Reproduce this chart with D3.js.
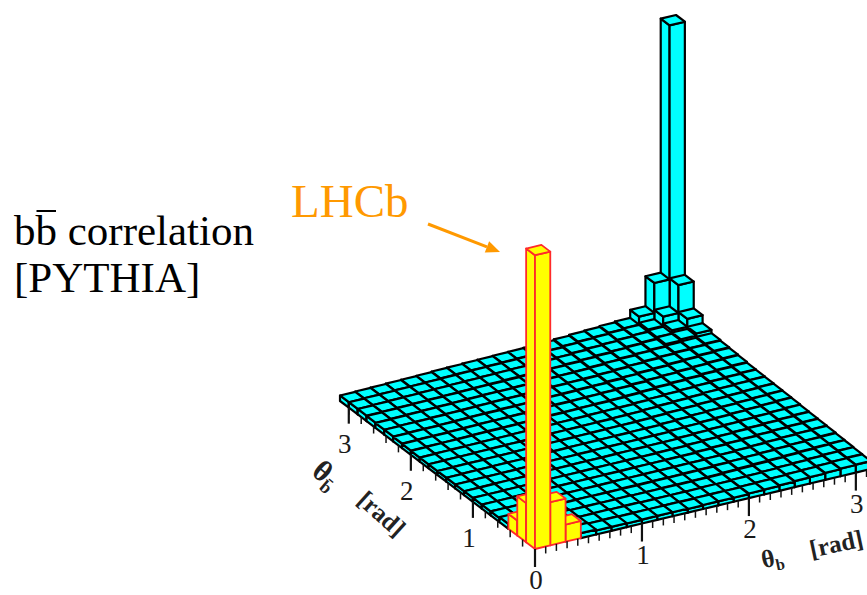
<!DOCTYPE html>
<html>
<head>
<meta charset="utf-8">
<script src="https://cdn.jsdelivr.net/npm/d3@7"></script>
<style>
  body { margin: 0; background: #fff; }
  svg { display: block; }
  text { font-family: "Liberation Serif", "Times New Roman", serif; }
</style>
</head>
<body>
<svg id="chart" width="867" height="595"></svg>
<script>
// both angles binned from 0 to pi
var nBins = 22;
var thetaTicks = [0, 1, 2, 3];
var tickLabels = ['0', '1', '2', '3'];
// bins inside the LHCb acceptance (theta_b bin, theta_bbar bin)
var lhcbBins = [[0, 0], [1, 0], [0, 1], [2, 0], [1, 1], [0, 2]];

// entries[j][i] : j = theta_bbar bin, i = theta_b bin (arbitrary units)
var entries = [
  [960,141,56,16,13,13,12,13,13,13,12,13,13,13,15,16,18,20,21,23,25,26],
  [128,98,39,16,13,14,13,13,12,13,13,13,14,13,15,16,18,20,21,23,25,27],
  [49,39,26,15,13,13,13,14,13,13,13,12,13,13,15,16,18,20,22,24,26,28],
  [16,15,14,13,13,14,13,13,13,13,14,14,14,15,17,19,21,22,24,26,28,29],
  [13,13,13,13,14,14,14,14,15,15,15,15,16,16,18,19,21,23,25,27,29,31],
  [13,13,14,14,14,14,15,15,15,15,16,16,16,16,18,20,22,24,26,28,30,32],
  [13,13,14,14,14,15,15,15,16,16,16,16,17,17,19,21,23,25,27,29,31,33],
  [13,13,14,14,15,15,15,16,16,16,17,17,18,18,20,22,24,26,28,30,32,34],
  [13,14,14,14,15,15,16,16,16,17,17,18,18,18,21,23,25,27,29,31,33,35],
  [13,14,14,15,15,15,16,16,17,17,18,18,19,19,21,23,26,28,30,32,34,36],
  [13,14,14,15,15,16,16,17,17,18,18,19,19,20,22,24,26,28,31,33,35,37],
  [13,14,14,15,15,16,16,17,18,18,19,19,20,21,23,25,27,29,32,34,36,38],
  [13,14,14,15,16,16,17,17,18,19,19,20,21,21,23,26,28,30,32,35,37,39],
  [13,14,15,15,16,16,17,18,18,19,20,21,21,22,24,26,29,31,33,36,38,40],
  [14,15,15,16,17,18,18,19,20,21,21,22,23,24,26,28,31,33,35,38,40,42],
  [15,16,16,17,18,19,19,20,21,22,23,23,24,25,27,30,32,34,37,39,42,44],
  [16,17,17,18,19,20,21,22,22,23,24,25,26,26,29,31,34,36,39,41,44,46],
  [16,17,18,19,20,21,22,23,23,24,25,26,27,28,30,33,35,38,40,43,45,48],
  [17,18,19,20,21,22,23,24,24,25,26,27,28,29,32,34,37,39,42,48,52,59],
  [18,19,20,21,22,23,24,25,26,27,28,28,29,31,33,36,38,41,44,49,59,85],
  [18,19,20,21,22,23,24,25,26,27,28,29,30,31,34,37,39,42,45,52,82,173],
  [18,19,20,21,22,23,25,26,27,28,29,30,31,32,35,38,40,43,46,72,170,1000]
];

var svg = d3.select('#chart');

// oblique projection of the (theta_b, theta_bbar, entries) box
var origin = [535, 549];
var tbX = d3.scaleLinear().domain([0, Math.PI]).range([0, 336]);
var tbY = d3.scaleLinear().domain([0, Math.PI]).range([0, -80]);
var tbbX = d3.scaleLinear().domain([0, Math.PI]).range([0, -195]);
var tbbY = d3.scaleLinear().domain([0, Math.PI]).range([0, -148]);
var zScale = d3.scaleLinear().domain([0, 1000]).range([0, 306]);
var binEdge = d3.scaleLinear().domain([0, nBins]).range([0, Math.PI]);

function proj(tb, tbb, z) {
    return [origin[0] + tbX(tb) + tbbX(tbb),
            origin[1] + tbY(tb) + tbbY(tbb) - zScale(z)];
}

var line = d3.line();
function quad(pts) { return line(pts) + 'Z'; }

function isLhcb(i, j) {
    return lhcbBins.some(function(b) { return b[0] == i && b[1] == j; });
}

// flatten and sort back to front
var bins = [];
entries.forEach(function(row, j) {
    row.forEach(function(v, i) { bins.push({i: i, j: j, v: v}); });
});
bins.sort(function(a, b) { return (b.i + b.j) - (a.i + a.j); });

var lego = svg.append('g').attr('id', 'lego');
var bars = lego.selectAll('g.bar')
    .data(bins).enter()
    .append('g')
    .attr('class', 'bar')
    .attr('fill', function(d) { return isLhcb(d.i, d.j) ? '#ffff00' : '#00ffff'; })
    .attr('stroke', function(d) { return isLhcb(d.i, d.j) ? '#ff2a2a' : '#000'; })
    .attr('stroke-width', function(d) { return isLhcb(d.i, d.j) ? 1.8 : 2.2; })
    .attr('stroke-linejoin', 'round');

bars.append('path').attr('d', function(d) {
    var t0 = binEdge(d.i), u0 = binEdge(d.j), u1 = binEdge(d.j + 1);
    return quad([proj(t0, u0, 0), proj(t0, u1, 0), proj(t0, u1, d.v), proj(t0, u0, d.v)]);
});
bars.append('path').attr('d', function(d) {
    var t0 = binEdge(d.i), t1 = binEdge(d.i + 1), u0 = binEdge(d.j);
    return quad([proj(t0, u0, 0), proj(t1, u0, 0), proj(t1, u0, d.v), proj(t0, u0, d.v)]);
});
bars.append('path').attr('d', function(d) {
    var t0 = binEdge(d.i), t1 = binEdge(d.i + 1), u0 = binEdge(d.j), u1 = binEdge(d.j + 1);
    return quad([proj(t0, u0, d.v), proj(t1, u0, d.v), proj(t1, u1, d.v), proj(t0, u1, d.v)]);
});

// axis ticks hanging under the front edges
var axes = svg.append('g').attr('stroke', '#111').attr('stroke-width', 1.5);
var minorB = d3.range(0, Math.PI, 0.1);
var minorBbar = d3.range(0.2, Math.PI, 0.2);

axes.selectAll('line.tb').data(minorB).enter().append('line')
    .attr('class', 'tb')
    .attr('x1', function(t) { return proj(t, 0, 0)[0]; })
    .attr('x2', function(t) { return proj(t, 0, 0)[0]; })
    .attr('y1', function(t) { return proj(t, 0, 0)[1]; })
    .attr('y2', function(t) { return proj(t, 0, 0)[1] + 7; });
axes.selectAll('line.tbb').data(minorBbar).enter().append('line')
    .attr('class', 'tbb')
    .attr('x1', function(t) { return proj(0, t, 0)[0]; })
    .attr('x2', function(t) { return proj(0, t, 0)[0]; })
    .attr('y1', function(t) { return proj(0, t, 0)[1]; })
    .attr('y2', function(t) { return proj(0, t, 0)[1] + 7; });
axes.selectAll('line.mb').data(thetaTicks).enter().append('line')
    .attr('class', 'mb')
    .attr('stroke-width', 2.2)
    .attr('x1', function(t) { return proj(t, 0, 0)[0]; })
    .attr('x2', function(t) { return proj(t, 0, 0)[0]; })
    .attr('y1', function(t) { return proj(t, 0, 0)[1]; })
    .attr('y2', function(t) { return proj(t, 0, 0)[1] + 18; });
axes.selectAll('line.mbb').data(thetaTicks.slice(1)).enter().append('line')
    .attr('class', 'mbb')
    .attr('stroke-width', 2.2)
    .attr('x1', function(t) { return proj(0, t, 0)[0]; })
    .attr('x2', function(t) { return proj(0, t, 0)[0]; })
    .attr('y1', function(t) { return proj(0, t, 0)[1]; })
    .attr('y2', function(t) { return proj(0, t, 0)[1] + 16; });

var labels = svg.append('g')
    .attr('fill', '#1a1a1a')
    .attr('font-size', 27)
    .attr('text-anchor', 'middle');
labels.selectAll('text.lb').data(thetaTicks).enter().append('text')
    .attr('class', 'lb')
    .attr('x', function(t) { return proj(t, 0, 0)[0] + 1; })
    .attr('y', function(t) { return proj(t, 0, 0)[1] + 40; })
    .text(function(t, k) { return tickLabels[k]; });
labels.selectAll('text.lbb').data(thetaTicks.slice(1)).enter().append('text')
    .attr('class', 'lbb')
    .attr('x', function(t) { return proj(0, t, 0)[0] - 4; })
    .attr('y', function(t) { return proj(0, t, 0)[1] + 45; })
    .text(function(t, k) { return tickLabels[k + 1]; });

// axis titles
var tTitle = svg.append('g').attr('fill', '#222').attr('font-size', 25)
    .attr('font-weight', 'bold').attr('text-anchor', 'middle');
var tb1 = tTitle.append('text').attr('transform', 'translate(774,566) rotate(-12)');
tb1.append('tspan').text('θ');
tb1.append('tspan').attr('font-size', 16).attr('dy', 5).text('b');
tTitle.append('text').attr('transform', 'translate(838,552) rotate(-12)').text('[rad]');
var tb2 = tTitle.append('text').attr('transform', 'translate(320,482) rotate(40)')
    .attr('font-size', 30);
tb2.append('tspan').text('θ');
tb2.append('tspan').attr('font-size', 18).attr('dy', 6).text('b\u0304');
tTitle.append('text').attr('transform', 'translate(376,520) rotate(42)').text('[rad]');

// left hand annotation
var title = svg.append('text')
    .attr('x', 14).attr('y', 245)
    .attr('font-size', 43)
    .attr('fill', '#000')
    .text('bb correlation');
var node = title.node();
var bStart = node.getStartPositionOfChar(1).x;
var bEnd = node.getEndPositionOfChar(1).x;
svg.append('line')
    .attr('x1', bStart + 1).attr('x2', bEnd - 1)
    .attr('y1', 211).attr('y2', 211)
    .attr('stroke', '#000').attr('stroke-width', 2);
svg.append('text')
    .attr('x', 14).attr('y', 292)
    .attr('font-size', 43)
    .attr('fill', '#000')
    .text('[PYTHIA]');

// LHCb label with arrow to the forward peak
var orange = '#ff9900';
svg.append('text')
    .attr('x', 291).attr('y', 217)
    .attr('font-size', 47)
    .attr('fill', orange)
    .text('LHCb');
var a0 = [428, 224], a1 = [500, 252];
var dx = a1[0] - a0[0], dy = a1[1] - a0[1], len = Math.sqrt(dx * dx + dy * dy);
var ux = dx / len, uy = dy / len;
var hb = [a1[0] - 14 * ux, a1[1] - 14 * uy];
svg.append('line')
    .attr('x1', a0[0]).attr('y1', a0[1])
    .attr('x2', hb[0]).attr('y2', hb[1])
    .attr('stroke', orange).attr('stroke-width', 3);
svg.append('path')
    .attr('d', quad([a1, [hb[0] - 6 * uy, hb[1] + 6 * ux], [hb[0] + 6 * uy, hb[1] - 6 * ux]]))
    .attr('fill', orange);
</script>
</body>
</html>
